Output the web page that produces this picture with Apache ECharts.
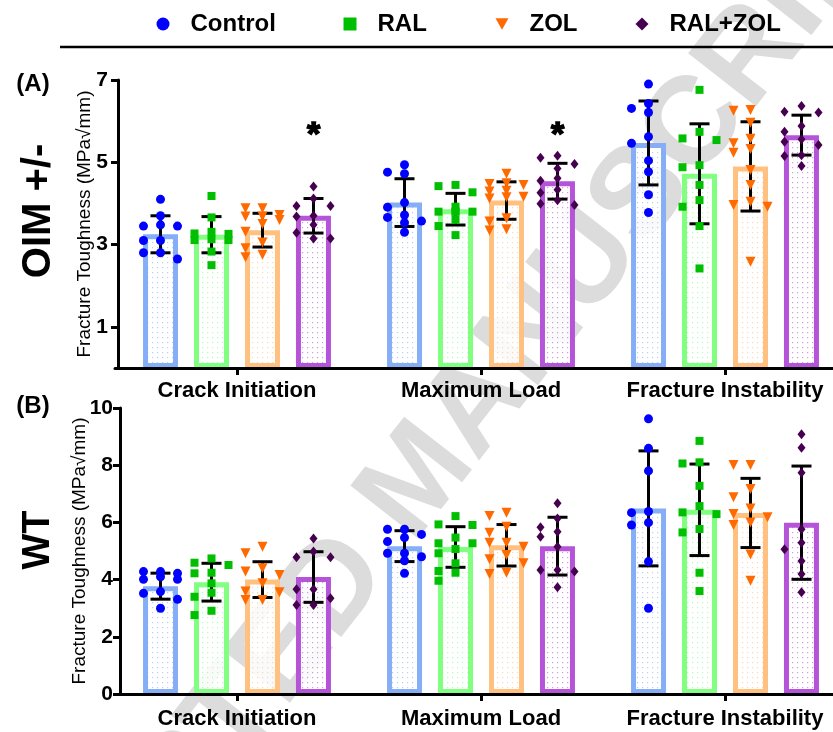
<!DOCTYPE html>
<html><head><meta charset="utf-8">
<script src="https://cdn.jsdelivr.net/npm/echarts@6/dist/echarts.min.js"></script>
<style>html,body{margin:0;padding:0;background:#fff}#c{width:833px;height:732px}</style>
</head><body><div id="c"></div>
<script>
// ---------------- DATA ----------------
const categories = ['Crack Initiation', 'Maximum Load', 'Fracture Instability'];
const groups = ['Control', 'RAL', 'ZOL', 'RAL+ZOL'];
const ticksA = [1, 3, 5, 7];
const ticksB = [0, 2, 4, 6, 8, 10];

// Panel A: OIM +/-  (mean, SD per category; individual points per category)
const oimControlMean = [3.25, 4.02, 5.47];
const oimControlSd = [0.45, 0.58, 1.02];
const oimControlPts = [
  [4.10, 3.70, 3.48, 3.45, 3.45, 3.10, 3.10, 2.80, 2.80, 2.65],
  [4.94, 4.76, 4.72, 4.02, 3.91, 3.72, 3.66, 3.57, 3.53, 3.30],
  [6.90, 6.43, 6.31, 6.21, 5.62, 5.46, 5.04, 4.77, 4.21, 3.78]
];
const oimRalMean = [3.24, 3.86, 4.72];
const oimRalSd = [0.44, 0.385, 1.215];
const oimRalPts = [
  [4.18, 3.66, 3.31, 3.27, 3.26, 3.13, 3.11, 3.11, 2.83, 2.50],
  [4.45, 4.42, 4.27, 3.92, 3.80, 3.80, 3.80, 3.80, 3.60, 3.45, 3.23],
  [6.76, 5.74, 5.58, 5.54, 4.93, 4.88, 4.45, 4.08, 3.92, 3.45, 2.42]
];
const oimZolMean = [3.35, 4.07, 4.90];
const oimZolSd = [0.41, 0.455, 1.085];
const oimZolPts = [
  [3.88, 3.88, 3.72, 3.68, 3.68, 3.60, 3.50, 3.31, 3.05, 2.91, 2.75, 2.69],
  [4.72, 4.49, 4.47, 4.45, 4.31, 4.29, 4.16, 4.15, 4.12, 3.64, 3.56, 3.37, 3.34],
  [6.27, 6.25, 5.96, 5.57, 5.46, 5.32, 5.23, 4.81, 4.45, 4.04, 3.96, 3.92, 2.58]
];
const oimRalZolMean = [3.70, 4.54, 5.66];
const oimRalZolSd = [0.42, 0.435, 0.485];
const oimRalZolPts = [
  [4.41, 4.12, 3.94, 3.94, 3.70, 3.68, 3.48, 3.29, 3.15, 3.15],
  [5.16, 5.11, 4.96, 4.85, 4.61, 4.55, 4.33, 4.26, 4.08, 3.99, 3.96],
  [6.37, 6.23, 6.21, 5.88, 5.74, 5.56, 5.50, 5.42, 5.17, 5.15, 4.91]
];
const oimSignificant = [true, true, false];   // '*' over RAL+ZOL
const oimStarLevel = 5.65;

// Panel B: WT
const wtControlMean = [3.77, 5.17, 6.49];
const wtControlSd = [0.455, 0.54, 2.01];
const wtControlPts = [
  [4.28, 4.28, 4.22, 4.10, 4.01, 4.01, 3.58, 3.52, 3.31, 3.00],
  [5.76, 5.76, 5.58, 5.47, 5.33, 4.92, 4.92, 4.80, 4.66, 4.22],
  [9.62, 8.59, 7.80, 6.38, 6.34, 5.99, 5.91, 4.63, 3.00]
];
const wtRalMean = [3.91, 5.14, 6.44];
const wtRalSd = [0.66, 0.71, 1.6];
const wtRalPts = [
  [4.74, 4.59, 4.51, 4.24, 4.22, 3.87, 3.54, 3.40, 2.91, 2.76],
  [6.22, 5.93, 5.91, 5.47, 5.27, 5.27, 5.07, 4.92, 4.57, 4.30, 4.24, 3.96],
  [8.85, 8.10, 8.06, 7.28, 6.57, 6.35, 6.29, 5.77, 5.65, 4.24, 3.60]
];
const wtZolMean = [4.00, 5.20, 6.33];
const wtZolSd = [0.625, 0.725, 1.21];
const wtZolPts = [
  [5.15, 4.92, 4.40, 4.28, 4.16, 3.87, 3.58, 3.56, 3.29, 3.29],
  [6.34, 6.22, 5.85, 5.64, 5.29, 5.29, 5.15, 4.86, 4.71, 4.57, 4.24, 4.20],
  [8.01, 8.01, 7.17, 6.88, 6.49, 6.29, 6.18, 6.00, 5.91, 4.88, 3.96]
];
const wtRalZolMean = [4.09, 5.17, 5.99];
const wtRalZolSd = [0.885, 1.01, 1.98];
const wtRalZolPts = [
  [5.44, 4.98, 4.78, 4.78, 3.66, 3.66, 3.35, 3.11, 3.11],
  [6.67, 6.14, 5.83, 5.67, 5.50, 5.15, 4.34, 4.34, 4.28, 3.73],
  [9.08, 8.61, 7.74, 5.76, 5.29, 5.06, 4.65, 4.20, 3.56]
];
const wtSignificant = [false, false, false];
const wtStarLevel = 0;

// ---------------- STYLE / LAYOUT ----------------
const FONT = '"Liberation Sans", Arial, Helvetica, sans-serif';
const dotColors = ['#0000FF', '#00BE00', '#FF6A00', '#45004F'];
const barColors = ['#86AEF7', '#80FF80', '#FFC080', '#B554D8'];
const symbols = ['circle', 'rect', 'triangle', 'diamond'];
const symbolRot = [0, 0, 180, 0];
const symbolSizes = [9, 8, 10, [8, 10]];
const legendIcons = ['circle', 'rect', 'path://M0,0 L10,0 L5,9 Z', 'diamond'];
const legendIconCenters = [158, 345, 497, 637];

const GRID_LEFT = 115, CAT_W = 244;
const BAR_W_FRAC = 35 / CAT_W;        // bar width as fraction of category
const BAR_GAP_FRAC = 16 / 35;          // gap relative to bar width
const BAR_STEP = BAR_W_FRAC * (1 + BAR_GAP_FRAC);
const JITTER_STEP = 17 / CAT_W;
const DOT_SEP_PX = 9;

const panels = [
  {
    mean: [oimControlMean, oimRalMean, oimZolMean, oimRalZolMean],
    sd: [oimControlSd, oimRalSd, oimZolSd, oimRalZolSd],
    pts: [oimControlPts, oimRalPts, oimZolPts, oimRalZolPts],
    sig: oimSignificant, star: oimStarLevel,
    max: 7, interval: 1, ticks: ticksA,
    top: 80, height: 288, yOffset: -3, nameGap: 24, labelMargin: 10, catMargin: 12
  },
  {
    mean: [wtControlMean, wtRalMean, wtZolMean, wtRalZolMean],
    sd: [wtControlSd, wtRalSd, wtZolSd, wtRalZolSd],
    pts: [wtControlPts, wtRalPts, wtZolPts, wtRalZolPts],
    sig: wtSignificant, star: wtStarLevel,
    max: 10, interval: 2, ticks: ticksB,
    top: 408, height: 286, yOffset: -5, nameGap: 31, labelMargin: 7, catMargin: 14
  }
];

function dotPattern(color) {
  const c = document.createElement('canvas');
  c.width = 5; c.height = 5;
  const g = c.getContext('2d');
  g.fillStyle = 'rgba(255,255,255,0.85)';
  g.fillRect(0, 0, 5, 5);
  g.globalAlpha = 0.6;
  g.fillStyle = color;
  g.fillRect(2, 2, 1.2, 1.2);
  return c;
}

function groupOffset(k) { return (k - 1.5) * BAR_STEP; }

// simple 3-column beeswarm: move a point sideways when it would overlap a neighbour
function swarm(values, center, minDist) {
  const order = values.map((v, i) => i).sort((a, b) => values[b] - values[a]);
  const cols = [0, -1, 1];
  const placed = { '0': [], '-1': [], '1': [] };
  const out = [];
  order.forEach(i => {
    const v = values[i];
    let best = null, bestGap = -1;
    for (const c of cols) {
      const gap = placed[c].reduce((g, u) => Math.min(g, Math.abs(u - v)), Infinity);
      if (gap >= minDist) { best = c; break; }
      if (gap > bestGap) { bestGap = gap; best = c; }
    }
    placed[best].push(v);
    out.push([center + best * JITTER_STEP, v]);
  });
  return out;
}

const grids = [], xAxes = [], yAxes = [], series = [];
panels.forEach((p, pi) => {
  grids.push({ left: GRID_LEFT, top: p.top, width: CAT_W * 3, height: p.height, outerBoundsMode: 'none', containLabel: false });
  xAxes.push({
    type: 'category', gridIndex: pi, data: categories, z: 5,
    axisLine: { show: true, lineStyle: { color: '#000', width: 3 } },
    axisTick: { show: true, alignWithLabel: true, length: 7, lineStyle: { color: '#000', width: 3 } },
    axisLabel: { color: '#000', fontSize: 22, fontWeight: 'bold', fontFamily: FONT, margin: p.catMargin, interval: 0 },
    splitLine: { show: false }
  });
  xAxes.push({ type: 'value', gridIndex: pi, min: 0, max: 3, show: false });
  yAxes.push({
    type: 'value', gridIndex: pi, min: 0, max: p.max, interval: p.interval, offset: p.yOffset, z: 5,
    name: 'Fracture Toughness (MPa√mm)', nameLocation: 'middle', nameGap: p.nameGap, nameMoveOverlap: false,
    nameTextStyle: { color: '#000', fontSize: 19, fontFamily: FONT },
    axisLine: { show: true, lineStyle: { color: '#000', width: 3 } },
    axisTick: { show: true, length: 7, customValues: p.ticks, lineStyle: { color: '#000', width: 3 } },
    axisLabel: { color: '#000', fontSize: 21, fontWeight: 'bold', fontFamily: FONT, margin: p.labelMargin, customValues: p.ticks },
    splitLine: { show: false }
  });
  const minDist = DOT_SEP_PX / (p.height / p.max);
  groups.forEach((g, k) => {
    series.push({
      type: 'bar', name: g + ' mean', xAxisIndex: pi * 2, yAxisIndex: pi,
      data: p.mean[k], barWidth: (BAR_W_FRAC * 100).toFixed(2) + '%', barGap: (BAR_GAP_FRAC * 100).toFixed(1) + '%',
      itemStyle: { color: { image: dotPattern(barColors[k]), repeat: 'repeat' }, borderColor: barColors[k], borderWidth: 5 },
      silent: true, z: 2
    });
    series.push({
      type: 'custom', name: g + ' sd', xAxisIndex: pi * 2 + 1, yAxisIndex: pi, z: 3, silent: true,
      data: p.mean[k].map((m, c) => [c + 0.5 + groupOffset(k), m, p.sd[k][c]]),
      renderItem: (params, api) => {
        const x = api.value(0), m = api.value(1), s = api.value(2);
        const t = api.coord([x, m + s]), b = api.coord([x, m - s]);
        const cx = t[0], hw = 10;
        const st = { stroke: '#000', lineWidth: 3 };
        return { type: 'group', children: [
          { type: 'line', shape: { x1: cx, y1: t[1], x2: cx, y2: b[1] }, style: st },
          { type: 'line', shape: { x1: cx - hw, y1: t[1], x2: cx + hw, y2: t[1] }, style: st },
          { type: 'line', shape: { x1: cx - hw, y1: b[1], x2: cx + hw, y2: b[1] }, style: st }
        ]};
      }
    });
    let pts = [];
    p.pts[k].forEach((vals, c) => { pts = pts.concat(swarm(vals, c + 0.5 + groupOffset(k), minDist)); });
    series.push({
      type: 'scatter', name: g, xAxisIndex: pi * 2 + 1, yAxisIndex: pi, z: 4, silent: true,
      symbol: symbols[k], symbolRotate: symbolRot[k], symbolSize: symbolSizes[k],
      itemStyle: { color: dotColors[k], opacity: 1 },
      data: pts
    });
  });
  const stars = [];
  p.sig.forEach((s, c) => { if (s) stars.push([c + 0.5 + groupOffset(3), p.star]); });
  series.push({
    type: 'scatter', name: 'sig', xAxisIndex: pi * 2 + 1, yAxisIndex: pi, z: 5, silent: true,
    symbolSize: 1, itemStyle: { color: 'rgba(0,0,0,0)' },
    label: { show: true, position: 'inside', formatter: '*', fontSize: 34, fontWeight: 'bold', color: '#000',
      textBorderColor: '#000', textBorderWidth: 1.5, fontFamily: FONT, opacity: 1 },
    data: stars
  });
});

const legends = groups.map((g, k) => ({
  data: [{ name: g, icon: legendIcons[k] }],
  left: legendIconCenters[k] - 6.5, top: 7, itemWidth: 13, itemHeight: 13, selectedMode: false,
  textStyle: { color: '#000', fontSize: 24, fontWeight: 'bold', fontFamily: FONT, padding: [0, 0, 0, 16] }
}));

const option = {
  animation: false,
  backgroundColor: '#fff',
  grid: grids, xAxis: xAxes, yAxis: yAxes, legend: legends, series: series,
  graphic: [
    { type: 'text', x: 420, y: 480, rotation: 52 * Math.PI / 180, z: -10, silent: true,
      style: { text: 'ACCEPTED MANUSCRIPT', fontSize: 125, fontWeight: 'bold', fontFamily: FONT, fill: '#dcdcdc', align: 'center', verticalAlign: 'middle' } },
    { type: 'line', shape: { x1: 60, y1: 47, x2: 833, y2: 47 }, style: { stroke: '#000', lineWidth: 2.5 } },
    { type: 'text', x: 33, y: 84, style: { text: '(A)', fontSize: 24, fontWeight: 'bold', fontFamily: FONT, fill: '#000', align: 'center', verticalAlign: 'middle' } },
    { type: 'text', x: 33, y: 406, style: { text: '(B)', fontSize: 24, fontWeight: 'bold', fontFamily: FONT, fill: '#000', align: 'center', verticalAlign: 'middle' } },
    { type: 'text', x: 39, y: 211, rotation: Math.PI / 2, style: { text: 'OIM +/-', fontSize: 40, fontWeight: 'bold', fontFamily: FONT, fill: '#000', align: 'center', verticalAlign: 'middle' } },
    { type: 'text', x: 39, y: 540, rotation: Math.PI / 2, style: { text: 'WT', fontSize: 38, fontWeight: 'bold', fontFamily: FONT, fill: '#000', align: 'center', verticalAlign: 'middle' } }
  ]
};

const chart = echarts.init(document.getElementById('c'));
chart.setOption(option);
</script>
</body></html>
